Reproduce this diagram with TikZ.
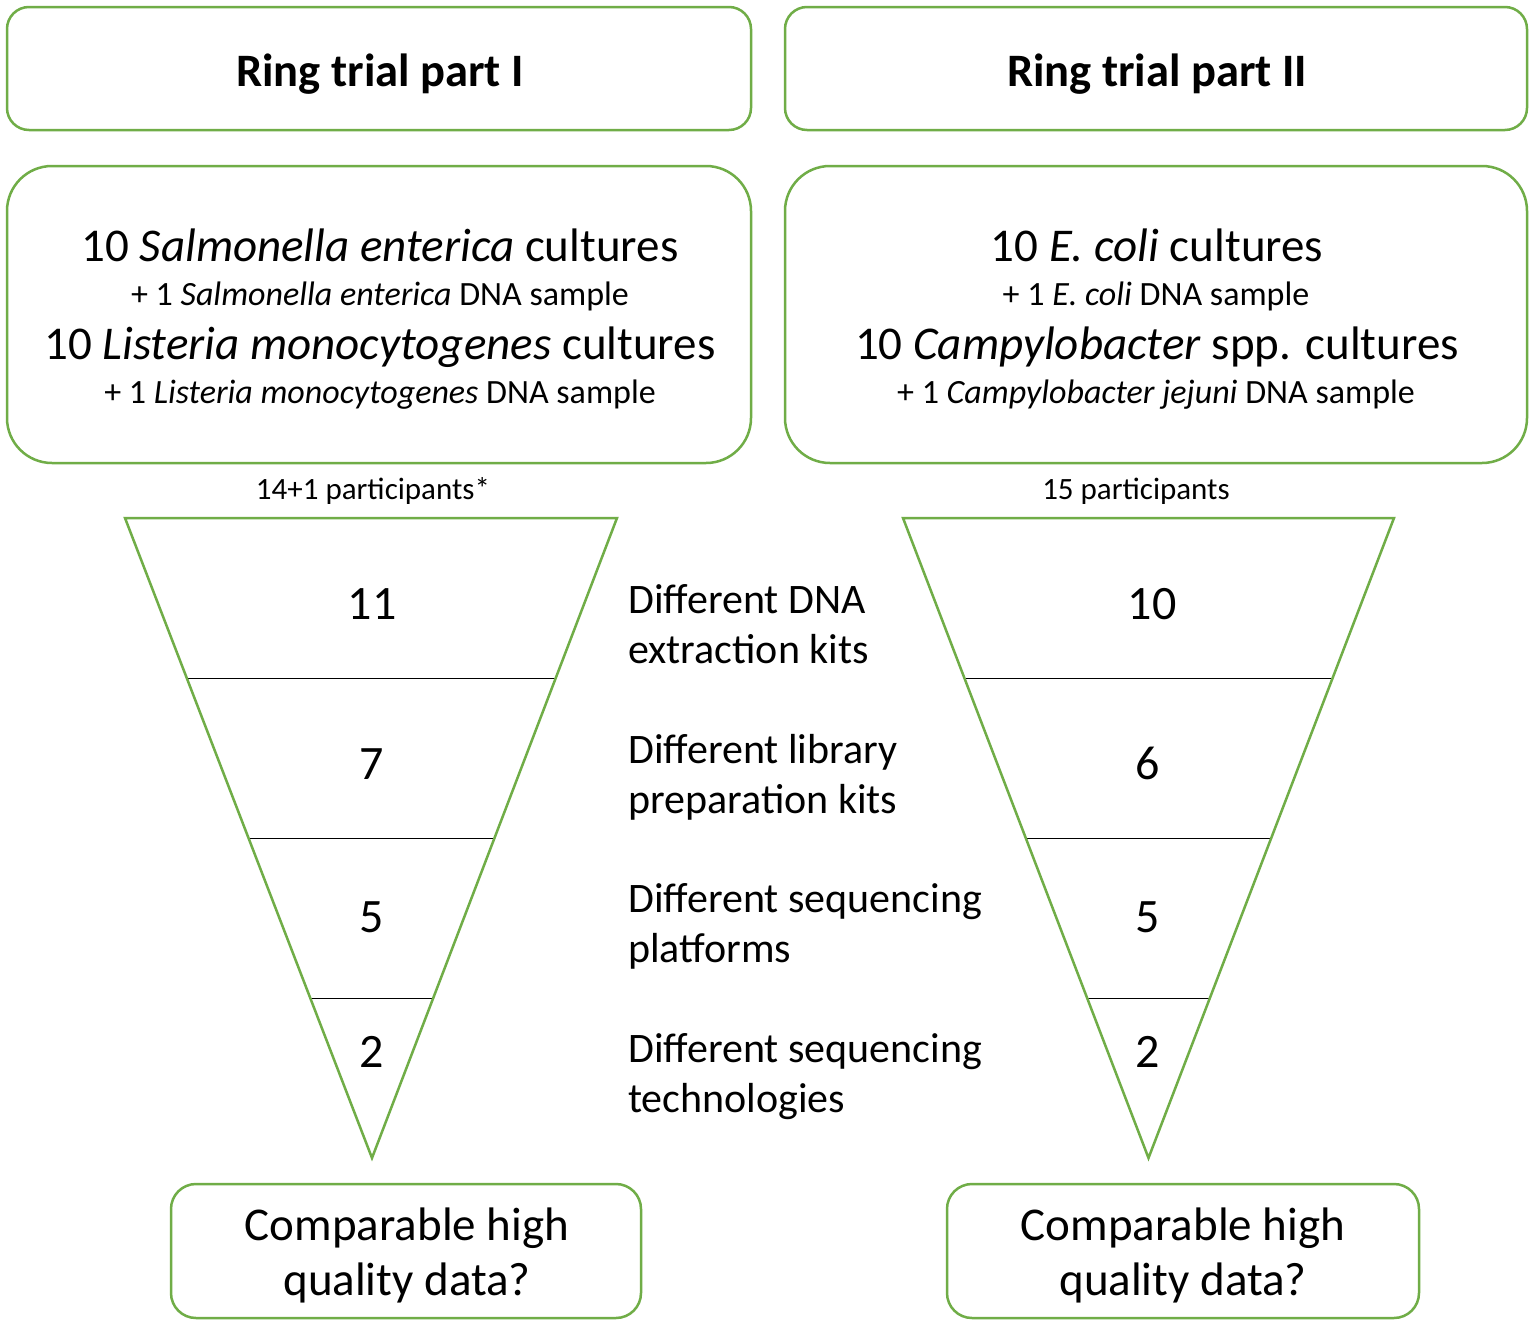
\documentclass[tikz,border=0pt]{standalone}
\usepackage{fontspec}
\setmainfont{Carlito}
\usetikzlibrary{calc}
\definecolor{boxgreen}{HTML}{70AD47}
\begin{document}
\begin{tikzpicture}[x=1pt,y=-1pt,
  box/.style={draw=boxgreen, line width=2.5pt, fill=white, inner sep=0pt},
  funnel/.style={draw=boxgreen, line width=2.5pt, line join=miter},
  divider/.style={draw=black, line width=1pt},
  titletext/.style={font=\fontsize{46.5}{55}\selectfont\bfseries, anchor=base, inner sep=0pt},
  bigline/.style={font=\fontsize{47}{57}\selectfont, anchor=base, inner sep=0pt},
  smallline/.style={font=\fontsize{34}{41}\selectfont, anchor=base, inner sep=0pt},
  parttext/.style={font=\fontsize{31}{38}\selectfont, anchor=base, inner sep=0pt},
  numtext/.style={font=\fontsize{48}{58}\selectfont, anchor=base, inner sep=0pt},
  labeltext/.style={font=\fontsize{42}{50}\selectfont, anchor=base west, inner sep=0pt},
  qtext/.style={font=\fontsize{47}{56}\selectfont, anchor=base, inner sep=0pt}
]
\useasboundingbox[fill=white] (0,0) rectangle (1535,1323);

% top title boxes
\node[box, rounded corners=22pt, minimum width=744pt, minimum height=123pt] (t1) at (379,68.5) {};
\node[box, rounded corners=22pt, minimum width=742pt, minimum height=123pt] (t2) at (1156,68.5) {};
\node[titletext] (t1txt) at (380,86) {Ring trial part I};
\node[titletext] (t2txt) at (1157,86) {Ring trial part II};

% sample boxes
\node[box, rounded corners=45pt, minimum width=744pt, minimum height=297pt] (s1) at (379,314.5) {};
\node[box, rounded corners=45pt, minimum width=742pt, minimum height=297pt] (s2) at (1156,314.5) {};

\node[bigline] (s1a) at (380,261) {10 \textit{Salmonella enterica} cultures};
\node[smallline] (s1b) at (380,305) {+ 1 \textit{Salmonella enterica} DNA sample};
\node[bigline] (s1c) at (380,359) {10 \textit{Listeria monocytogenes} cultures};
\node[smallline] (s1d) at (380,403) {+ 1 \textit{Listeria monocytogenes} DNA sample};

\node[bigline] (s2a) at (1157,261) {10 \textit{E. coli} cultures};
\node[smallline] (s2b) at (1156,305) {+ 1 \textit{E. coli} DNA sample};
\node[bigline] (s2c) at (1157,359) {10 \textit{Campylobacter} spp. cultures};
\node[smallline] (s2d) at (1156,403) {+ 1 \textit{Campylobacter jejuni} DNA sample};

% participants
\node[parttext] (p1) at (373,499) {14+1 participants*};
\node[parttext] (p2) at (1136,499) {15 participants};

% left funnel
\coordinate (L1) at (125,518);
\coordinate (R1) at (617,518);
\coordinate (A1) at (372,1158);
\foreach \t in {0.25,0.5,0.75}
  \draw[divider] ($(L1)!\t!(A1)$) -- ($(R1)!\t!(A1)$);
\draw[funnel] (L1) -- (R1) -- (A1) -- cycle;

% right funnel
\coordinate (L2) at (903,518);
\coordinate (R2) at (1394,518);
\coordinate (A2) at (1148.5,1158);
\foreach \t in {0.25,0.5,0.75}
  \draw[divider] ($(L2)!\t!(A2)$) -- ($(R2)!\t!(A2)$);
\draw[funnel] (L2) -- (R2) -- (A2) -- cycle;

% numbers
\node[numtext] (n11) at (372,619) {11};
\node[numtext] (n12) at (372,779) {7};
\node[numtext] (n13) at (372,932) {5};
\node[numtext] (n14) at (372,1067) {2};
\node[numtext] (n21) at (1152,619) {10};
\node[numtext] (n22) at (1148,779) {6};
\node[numtext] (n23) at (1148,932) {5};
\node[numtext] (n24) at (1148,1067) {2};

% middle labels
\node[labeltext] (m1a) at (628,613) {Different DNA};
\node[labeltext] (m1b) at (628,663) {extraction kits};
\node[labeltext] (m2a) at (628,763) {Different library};
\node[labeltext] (m2b) at (628,813) {preparation kits};
\node[labeltext] (m3a) at (628,912) {Different sequencing};
\node[labeltext] (m3b) at (628,962) {platforms};
\node[labeltext] (m4a) at (628,1062) {Different sequencing};
\node[labeltext] (m4b) at (628,1112) {technologies};

% bottom boxes
\node[box, rounded corners=25pt, minimum width=470pt, minimum height=134pt] (q1) at (406,1251) {};
\node[box, rounded corners=25pt, minimum width=472pt, minimum height=134pt] (q2) at (1183,1251) {};
\node[qtext] (q1a) at (407,1240) {Comparable high};
\node[qtext] (q1b) at (407,1295) {quality data?};
\node[qtext] (q2a) at (1183,1240) {Comparable high};
\node[qtext] (q2b) at (1183,1295) {quality data?};
\end{tikzpicture}
\end{document}
